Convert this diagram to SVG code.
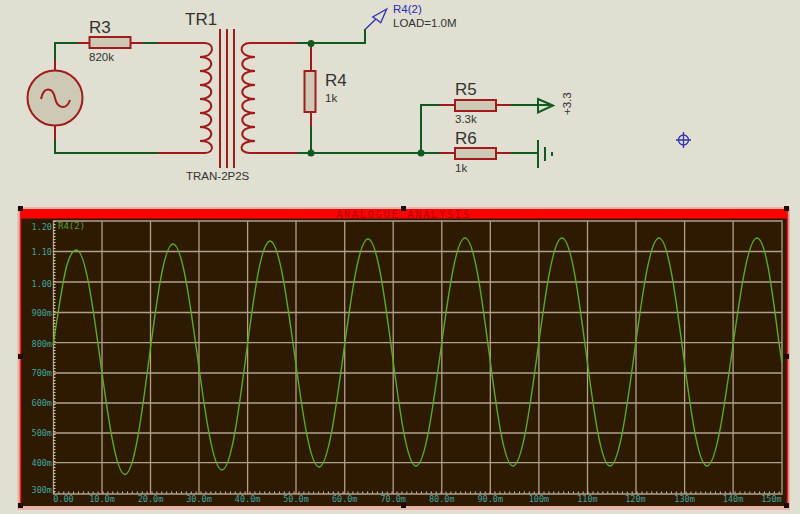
<svg xmlns="http://www.w3.org/2000/svg" width="800" height="514" viewBox="0 0 800 514">
<defs>
<style>
svg{font-family:"Liberation Sans",Arial,sans-serif}
.w{fill:none;stroke:#0f5a1e;stroke-width:2}
.p{fill:none;stroke:#a01c1c;stroke-width:2}
.b{fill:#cdc9b4;stroke:#a01c1c;stroke-width:2}
.n{font-size:17px;fill:#33332f}
.v{font-size:11.500px;fill:#33332f}
.ax{font-family:"DejaVu Sans Mono","Liberation Mono",monospace;font-size:8.500px;fill:#3fa5a0}
.mono{font-family:"DejaVu Sans Mono","Liberation Mono",monospace}
.g{stroke:#b0a08c;stroke-width:1.300;fill:none}
.h{fill:#1a0808}
.d{fill:#0f5a1e}
</style>
</defs>
<rect width="800" height="514" fill="#e0dfd2"/>
<g id="connectors">
<path class="w" d="M55 60V43H78M143 43H158M55 140V153H158M297 43H365V29M311 57V43M311 126V153M297 153H440M421 153V105H440M511 105H550M511 153H538"/>
<path class="p" d="M55 71V60M55 126V140M78 43H90M131 43H143M158 43H205M158 153H205M250 153H297M250 43H297M311 44V71M311 112V126M440 105H455M440 153H455M496 105H511M496 153H511"/>
<circle class="d" cx="311" cy="43.500" r="3.500"/><circle class="d" cx="311" cy="153" r="3.500"/><circle class="d" cx="421" cy="153" r="3.500"/>
</g>
<g id="V1"><circle class="b" cx="55" cy="98" r="27.500"/><path class="p" d="M41 99C44 85 53 88 55 98C57 108 66 111 70 100"/></g>
<g id="R3"><rect class="b" x="89.500" y="37" width="41" height="11"/><text class="n" x="89" y="33">R3</text><text class="v" x="89" y="61">820k</text></g>
<g id="TR1">
<path class="p" d="M200 43H205C215 43 215 57 200 57C215 57 215 71 200 71C215 71 215 85 200 85C215 85 215 99 200 99C215 99 215 113 200 113C215 113 215 127 200 127C215 127 215 141 200 141C215 141 215 153 205 153H200"/>
<path class="p" d="M255 43H250C238 43 238 57 255 57C238 57 238 71 255 71C238 71 238 85 255 85C238 85 238 99 255 99C238 99 238 113 255 113C238 113 238 127 255 127C238 127 238 141 255 141C238 141 238 153 250 153H255"/>
<path class="p" d="M220 29V168M227 29V168M234 29V168"/>
<text class="n" x="185" y="25">TR1</text><text class="v" x="186" y="180">TRAN-2P2S</text>
</g>
<g id="probe"><path d="M365.300 29.300L376 19M386.700 9L372.700 17L376 19L380.700 22.700Z" fill="none" stroke="#3030b0" stroke-width="1.300"/><text x="393" y="13" font-size="11.500" fill="#2a2ab0">R4(2)</text><text class="v" x="393" y="27">LOAD=1.0M</text></g>
<g id="R4"><rect class="b" x="304.500" y="71" width="11" height="41"/><text class="n" x="325" y="86">R4</text><text class="v" x="325" y="102">1k</text></g>
<g id="R5"><rect class="b" x="455" y="100" width="41" height="11"/><text class="n" x="455" y="95">R5</text><text class="v" x="455" y="123">3.3k</text></g>
<g id="R6"><rect class="b" x="455" y="148" width="41" height="11"/><text class="n" x="455" y="144">R6</text><text class="v" x="455" y="172">1k</text></g>
<g id="power"><path d="M538 99L553 105.500L538 112.500Z" fill="none" stroke="#0f5a1e" stroke-width="2"/><text class="v" transform="translate(570.500 115) rotate(-90)">+3.3</text></g>
<g id="ground"><path class="w" d="M538 140V168M545 147V161M552 152V156"/></g>
<g id="marker"><circle cx="683.500" cy="140" r="5" fill="none" stroke="#3030b0" stroke-width="1.300"/><path d="M683.500 132V148M676 140H691" stroke="#3030b0" stroke-width="1.300"/></g>
<g id="graph">
<rect x="17.500" y="207" width="772.500" height="303" fill="#e5b4a8"/>
<rect x="20" y="209" width="767.500" height="297" fill="#2e1a00"/>
<rect x="20" y="209" width="767.500" height="9.500" fill="#ff0000"/>
<path d="M20.500 209V506M787.500 209V506" stroke="#f01818" stroke-width="1.500"/>
<text class="mono" x="403.500" y="217.500" text-anchor="middle" font-size="10" letter-spacing="1.900" fill="#b00000">ANALOGUE ANALYSIS</text>
<path class="g" d="M53.500 221H782V494H53.500ZM102 221V494M150.500 221V494M199 221V494M247.600 221V494M296 221V494M344.700 221V494M393.200 221V494M441.800 221V494M490.300 221V494M538.900 221V494M587.500 221V494M636 221V494M684.600 221V494M733.100 221V494M53.500 251.500H782M53.500 282H782M53.500 312.500H782M53.500 342.700H782M53.500 373H782M53.500 403H782M53.500 433H782M53.500 462.700H782"/>
<path d="M54.500 221V494" fill="none" stroke="#cfc6b4" stroke-width="2" stroke-dasharray="1 2"/>
<path d="M53.500 492.500H782" fill="none" stroke="#cfc6b4" stroke-width="2" stroke-dasharray="1 3.900"/>
<path d="M53 345C62 290 66 250 76.500 250C94 250 107 474.500 125 474.500C143 474.500 155 244 173 244C191 244 204 470 222 470C240 470 252 241 270 241C288 241 301 467 319 467C337 467 350 239 368 239C386 239 398 466 416 466C434 466 447 238 465 238C483 238 495 466 513 466C531 466 544 238 562 238C580 238 592 466 610 466C628 466 641 238 659 238C677 238 689 466 707 466C725 466 739 238 757 238C768 238 775 320 782 363" fill="none" stroke="#58ad1e" stroke-width="1.400"/>
<text class="mono" x="58" y="229" font-size="9" fill="#4fa828">R4(2)</text>
<g class="ax" text-anchor="end">
<text x="52" y="230">1.20</text><text x="52" y="255">1.10</text><text x="52" y="286.500">1.00</text><text x="52" y="316">900m</text><text x="52" y="346.500">800m</text><text x="52" y="376">700m</text><text x="52" y="406">600m</text><text x="52" y="436">500m</text><text x="52" y="466">400m</text><text x="52" y="493">300m</text>
</g>
<g class="ax" text-anchor="middle">
<text x="63.500" y="502">0.00</text><text x="102" y="502">10.0m</text><text x="150.500" y="502">20.0m</text><text x="199" y="502">30.0m</text><text x="247.600" y="502">40.0m</text><text x="296" y="502">50.0m</text><text x="344.700" y="502">60.0m</text><text x="393.200" y="502">70.0m</text><text x="441.800" y="502">80.0m</text><text x="490.300" y="502">90.0m</text><text x="538.900" y="502">100m</text><text x="587.500" y="502">110m</text><text x="635.500" y="502">120m</text><text x="684.600" y="502">130m</text><text x="733.100" y="502">140m</text><text x="771.500" y="502">150m</text>
</g>
<rect class="h" x="18" y="206" width="5" height="5"/><rect class="h" x="401" y="206" width="5" height="5"/><rect class="h" x="18" y="354" width="5" height="5"/><rect class="h" x="18" y="503" width="5" height="5"/><rect class="h" x="401" y="503" width="5" height="5"/><rect class="h" x="784" y="503" width="5" height="5"/><rect class="h" x="784" y="206" width="5" height="5"/><rect class="h" x="784" y="354" width="5" height="5"/>
</g>
</svg>
